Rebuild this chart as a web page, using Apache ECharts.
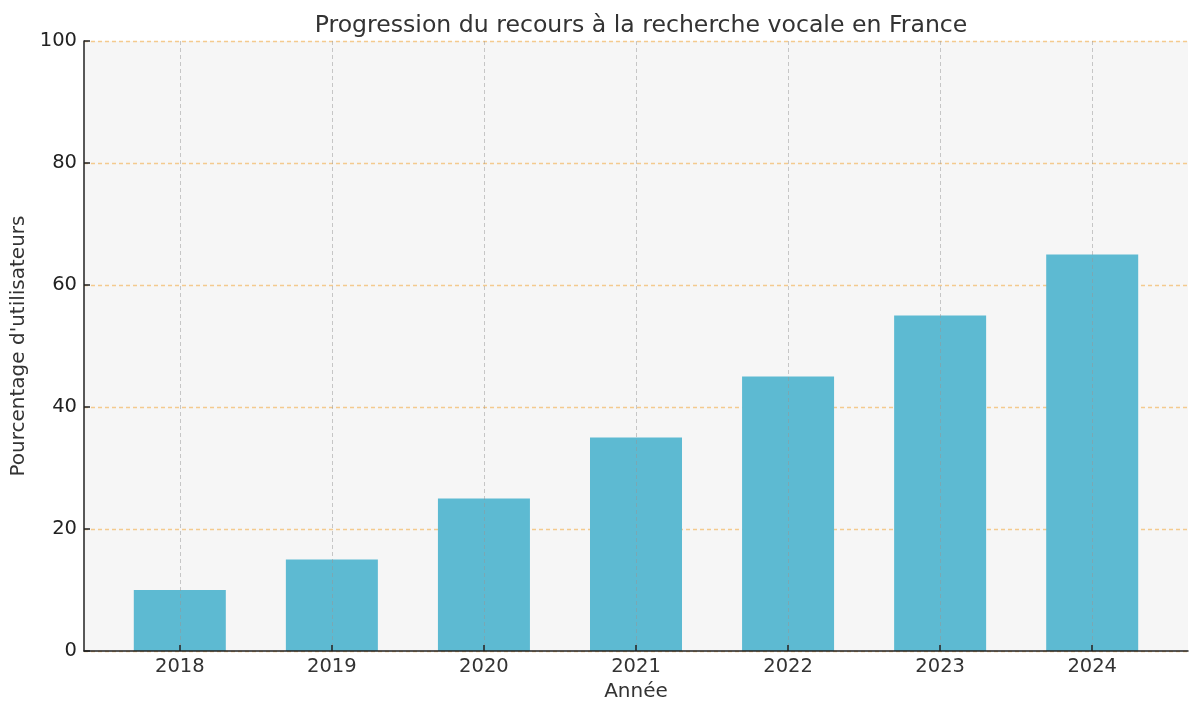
<!DOCTYPE html>
<html><head><meta charset="utf-8">
<script src="https://cdn.jsdelivr.net/npm/echarts@6/dist/echarts.min.js"></script>
<style>html,body{margin:0;padding:0;background:#fff}#c{width:1200px;height:716px}</style>
</head><body><div id="c"></div>
<script>
const years = ['2018','2019','2020','2021','2022','2023','2024'];
const values = [10, 15, 25, 35, 45, 55, 65];
const yTicks = [0, 20, 40, 60, 80, 100];

const positions = years.map((_, i) => i);
const chart = echarts.init(document.getElementById('c'), null, {renderer: 'canvas'});
const font = 'DejaVu Sans';
chart.setOption({
  animation: false,
  title: {
    text: 'Progression du recours à la recherche vocale en France',
    left: 636, top: 9, textAlign: 'center',
    textStyle: {fontFamily: font, fontSize: 23.6, fontWeight: 'normal', color: '#333'}
  },
  grid: {left: 84, right: 12, top: 41, bottom: 65, show: true, backgroundColor: '#f6f6f6', borderWidth: 0},
  xAxis: {
    type: 'value', min: -0.63, max: 6.63, z: 5,
    name: 'Année', nameLocation: 'middle', nameGap: 31,
    nameTextStyle: {fontFamily: font, fontSize: 20, color: '#333'},
    axisLine: {show: true, onZero: false, lineStyle: {color: '#222', width: 1.5}},
    axisTick: {show: true, inside: true, length: 6, customValues: positions, lineStyle: {color: '#222', width: 1.5}},
    axisLabel: {customValues: positions, formatter: v => years[Math.round(v)], fontFamily: font, fontSize: 19.5, color: '#333', margin: 6},
    splitLine: {show: true, lineStyle: {color: 'rgba(150,150,150,0.5)', type: [4, 3], width: 1}}
  },
  yAxis: {
    type: 'value', min: yTicks[0], max: yTicks[yTicks.length - 1], interval: 20, z: 0,
    name: "Pourcentage d'utilisateurs", nameLocation: 'middle', nameGap: 53, nameRotate: 90,
    nameTextStyle: {fontFamily: font, fontSize: 20, color: '#333'},
    axisLine: {show: true, onZero: false, lineStyle: {color: '#222', width: 1.5}},
    axisTick: {show: true, inside: true, length: 6, lineStyle: {color: '#222', width: 1.5}},
    axisLabel: {fontFamily: font, fontSize: 19.5, color: '#222', margin: 7},
    splitLine: {show: true, lineStyle: {color: '#f4ca8e', type: [4, 3], width: 1.3}}
  },
  series: [{
    type: 'bar',
    data: values.map((v, i) => [i, v]),
    barWidth: 92,
    itemStyle: {color: '#5dbad2'},
    z: 2
  }]
});
</script></body></html>
